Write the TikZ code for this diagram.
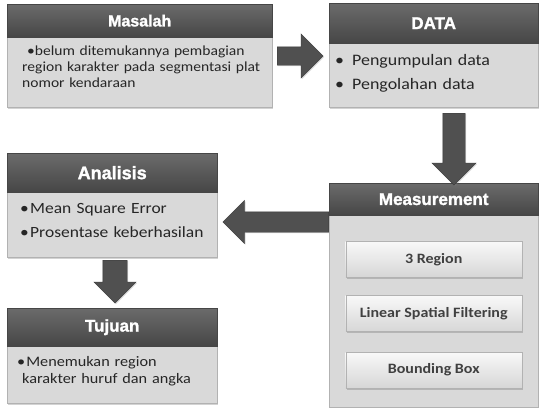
\documentclass[tikz,border=0pt]{standalone}
\usepackage{fontspec}
\setmainfont[FakeStretch=1.12]{Carlito}
\newfontfamily\headfont[BoldFeatures={FakeBold=1.5}]{Liberation Sans}
\usetikzlibrary{shapes.arrows,shadows,positioning}
\setlength{\parindent}{0pt}
\definecolor{headtop}{HTML}{6B6B6B}
\definecolor{headbot}{HTML}{464646}
\definecolor{bodygray}{HTML}{D9D9D9}
\definecolor{arrowgray}{HTML}{505050}
\definecolor{textgray}{HTML}{262626}
\definecolor{btntext}{HTML}{404040}

\begin{document}
\begin{tikzpicture}[x=1pt, y=-1pt,
    headbox/.style={anchor=north west, inner sep=0pt, top color=headtop, bottom color=headbot, draw=headbot,
        text=white, font=\headfont\bfseries\fontsize{17}{17}\selectfont},
    bodybox/.style={anchor=north west, inner sep=0pt, fill=bodygray, draw=gray!60,
        drop shadow={shadow xshift=0.5pt, shadow yshift=-1.5pt, opacity=0.35}},
    bodytext/.style={anchor=north west, inner sep=0pt, text width=240pt, align=left, text=textgray},
    btnbox/.style={minimum width=176pt, minimum height=36pt, inner sep=0pt, top color=gray!5, bottom color=gray!32,
        draw=gray!60, drop shadow={shadow xshift=1pt, shadow yshift=-1.5pt, opacity=0.4},
        text=btntext, font=\bfseries\fontsize{14.3}{16}\selectfont},
    bigarrow/.style={single arrow, anchor=tail, fill=arrowgray, draw=arrowgray!70!black,
        drop shadow={shadow xshift=1pt, shadow yshift=-1pt, opacity=0.3}}]
    \useasboundingbox (0,0) rectangle (540,407);

    \node[bigarrow, inner xsep=0pt, inner ysep=9pt, minimum height=46pt, single arrow head extend=13pt] (arrow data) at (277,56) {};
    \node[bigarrow, inner xsep=0pt, inner ysep=10pt, minimum height=106pt, single arrow head extend=11.5pt, shape border rotate=180] (arrow analisis) at (329,222) {};
    \node[bigarrow, inner xsep=12pt, inner ysep=0pt, minimum height=43pt, single arrow head extend=9pt, shape border rotate=270] (arrow tujuan) at (115,260) {};

    \node[bodybox, minimum width=265pt, minimum height=70pt] (masalah body) at (7,37) {};
    \node[headbox, minimum width=265pt, minimum height=33pt, font=\headfont\bfseries\fontsize{16}{16}\selectfont] (masalah) at (7,4) {Masalah};
    \node[bodytext, font=\fontsize{13.9}{16}\selectfont] (masalah text) at ([xshift=15pt, yshift=-9pt]masalah body.north west)
        {\hspace*{5pt}\textbullet belum ditemukannya pembagian\\region karakter pada segmentasi plat\\nomor kendaraan};

    \node[bodybox, minimum width=209pt, minimum height=64pt] (data body) at (329,43) {};
    \node[headbox, minimum width=209pt, minimum height=40pt] (data) at (329,3) {DATA};
    \node[bodytext, text width=200pt, font=\fontsize{16}{23.5}\selectfont] (data text) at ([xshift=6pt, yshift=-11.5pt]data body.north west)
        {\makebox[17pt][l]{\textbullet}Pengumpulan data\\\makebox[17pt][l]{\textbullet}Pengolahan data};

    \node[bodybox, minimum width=209pt, minimum height=192pt] (measure body) at (329,215) {};
    \node[headbox, minimum width=209pt, minimum height=32pt] (measure) at (329,183) {Measurement};
    \node[btnbox, below=26pt of measure body.north] (region) {3 Region};
    \node[btnbox, below=18pt of region] (filtering) {Linear Spatial Filtering};
    \node[btnbox, below=20pt of filtering] (bbox) {Bounding Box};

    \node[bodybox, minimum width=210pt, minimum height=65pt] (analisis body) at (7,192) {};
    \node[headbox, minimum width=210pt, minimum height=39pt, font=\headfont\bfseries\fontsize{18}{18}\selectfont] (analisis) at (7,153) {Analisis};
    \node[bodytext, text width=200pt, font=\fontsize{15.6}{24}\selectfont] (analisis text) at ([xshift=13pt, yshift=-11.5pt]analisis body.north west)
        {\makebox[10pt][l]{\textbullet}Mean Square Error\\\makebox[10pt][l]{\textbullet}Prosentase keberhasilan};

    \node[bodybox, minimum width=210pt, minimum height=57pt] (tujuan body) at (7,346) {};
    \node[headbox, minimum width=210pt, minimum height=38pt] (tujuan) at (7,308) {Tujuan};
    \node[bodytext, text width=200pt, font=\fontsize{14.5}{17}\selectfont] (tujuan text) at ([xshift=10pt, yshift=-10.5pt]tujuan body.north west)
        {\textbullet\hspace{1pt}Menemukan region\\\hspace*{5pt}karakter huruf dan angka};

    \node[bigarrow, inner xsep=11pt, inner ysep=0pt, minimum height=72pt, single arrow head extend=11pt, shape border rotate=270] (arrow measure) at (454,113) {};
\end{tikzpicture}
\end{document}
